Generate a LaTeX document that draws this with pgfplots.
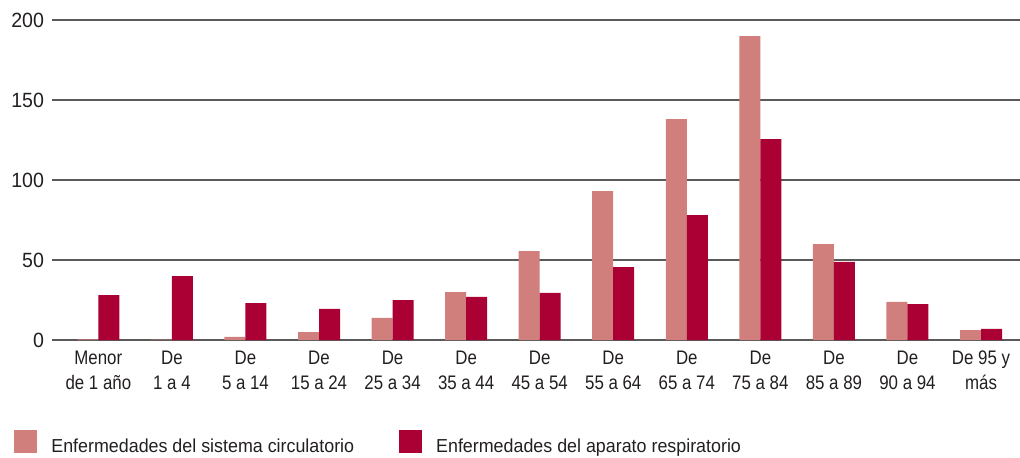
\documentclass[border=0pt]{standalone}
\usepackage{pgfplots}
\pgfplotsset{compat=1.18}
\usepackage{fontspec}
\setmainfont{Liberation Sans}[FakeStretch=0.95]
\newfontfamily\narrowf{Liberation Sans}[FakeStretch=0.86]
\definecolor{circ}{HTML}{D07F7D}
\definecolor{resp}{HTML}{AA0033}
\definecolor{gridc}{HTML}{5A5A5A}
\definecolor{txt}{HTML}{231F20}
\begin{document}
\begin{tikzpicture}
\useasboundingbox (0,0) rectangle (510pt,228.5pt);
\begin{axis}[
  at={(26pt,58.5pt)}, anchor=south west,
  scale only axis, width=484pt, height=160pt,
  ybar=0pt, bar width=10.5pt,
  xmin=-0.63, xmax=12.53, ymin=0, ymax=200,
  ytick={0,50,100,150,200},
  xtick={0,...,12},
  xticklabels={{Menor\\de 1 año},{De\\1 a 4},{De\\5 a 14},{De\\15 a 24},{De\\25 a 34},{De\\35 a 44},{De\\45 a 54},{De\\55 a 64},{De\\65 a 74},{De\\75 a 84},{De\\85 a 89},{De\\90 a 94},{De 95 y\\más}},
  xticklabel style={align=center, font=\narrowf\fontsize{9.8}{12.5}\selectfont, text=txt, yshift=-2pt},
  yticklabel style={font=\fontsize{10.3}{12}\selectfont, text=txt, xshift=-0.5pt},
  /pgf/number format/assume math mode=true,
  axis line style={draw=none},
  major tick length=0pt,
  ymajorgrids, grid style={gridc, line width=0.75pt},
  legend columns=2,
  legend style={at={(axis description cs:0,0)}, anchor=north west, xshift=-19pt, yshift=-45pt,
    draw=none, fill=none, inner sep=0pt, font=\fontsize{9.4}{11}\selectfont, text=txt,
    nodes={inner sep=0pt},
    /tikz/every odd column/.append style={column sep=7pt},
    /tikz/every even column/.append style={column sep=22.5pt}},
  legend image code/.code={\fill[#1] (0pt,-3pt) rectangle (11.5pt,8.5pt);},
]
\addplot[fill=circ, draw=none] coordinates {(0,0.4) (1,0.3) (2,1.9) (3,5) (4,13.8) (5,30) (6,55.6) (7,93.1) (8,138.1) (9,190) (10,60) (11,23.8) (12,6.2)};
\addplot[fill=resp, draw=none] coordinates {(0,28.1) (1,40) (2,23.1) (3,19.4) (4,25) (5,26.9) (6,29.4) (7,45.6) (8,78.1) (9,125.6) (10,48.8) (11,22.5) (12,6.9)};
\legend{Enfermedades del sistema circulatorio, Enfermedades del aparato respiratorio}
\end{axis}
\end{tikzpicture}
\end{document}
